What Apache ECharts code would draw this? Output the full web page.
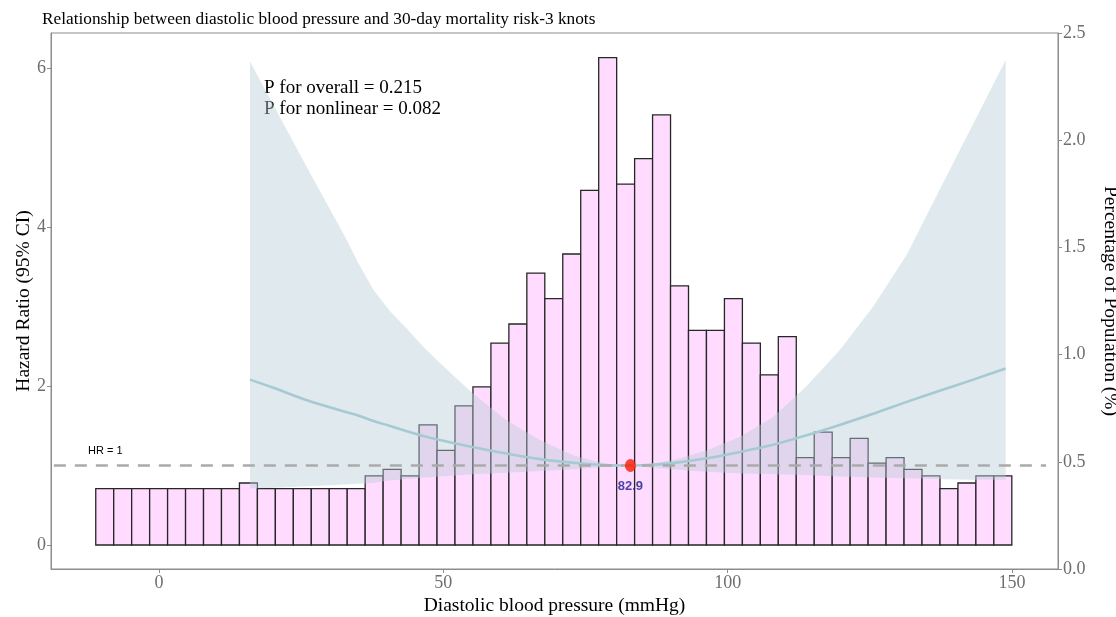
<!DOCTYPE html>
<html><head><meta charset="utf-8">
<script src="https://cdn.jsdelivr.net/npm/echarts@6/dist/echarts.min.js"></script>
<style>html,body{margin:0;padding:0;background:#fff;overflow:hidden}#c{width:1116px;height:617px}</style>
</head><body><div id="c"></div>
<script>
// Histogram bins (x in mmHg), heights read in hazard-ratio axis units
const binStart = -11.13;
const binWidth = 3.159;
const barHeights = [0.71,0.71,0.71,0.71,0.71,0.71,0.71,0.71,0.78,0.71,0.71,0.71,0.71,0.71,0.71,
  0.87,0.95,0.87,1.51,1.19,1.75,1.99,2.54,2.78,3.42,3.10,3.66,4.46,6.13,4.54,4.86,5.41,
  3.26,2.70,2.70,3.10,2.54,2.14,2.62,1.10,1.42,1.10,1.34,1.03,1.10,0.95,0.87,0.71,0.78,0.87,0.87];

// Spline fit and 95% CI
const ciX     = [16, 20, 26, 33, 35, 37.7, 40.5, 43.6, 46.5, 49.4, 55.3, 61.1, 67, 72.8, 78.7, 82.9, 87, 90.4, 96.3, 102.2, 108, 113.9, 119.7, 125.6, 131.5, 137.3, 143.2, 148.9];
const hrFit   = [2.08, 1.98, 1.82, 1.67, 1.63, 1.56, 1.50, 1.43, 1.37, 1.32, 1.23, 1.15, 1.08, 1.035, 1.005, 1.0, 1.01, 1.03, 1.09, 1.17, 1.26, 1.38, 1.51, 1.65, 1.80, 1.94, 2.08, 2.22];
const hrUpper = [6.08, 5.55, 4.75, 3.84, 3.55, 3.21, 2.95, 2.72, 2.49, 2.29, 1.90, 1.57, 1.32, 1.13, 1.02, 1.0, 1.03, 1.07, 1.19, 1.36, 1.61, 2.0, 2.45, 3.0, 3.65, 4.47, 5.30, 6.10];
const hrLower = [0.71, 0.72, 0.74, 0.76, 0.77, 0.78, 0.81, 0.83, 0.85, 0.86, 0.89, 0.91, 0.93, 0.95, 0.98, 1.0, 0.97, 0.95, 0.92, 0.90, 0.89, 0.88, 0.86, 0.85, 0.84, 0.83, 0.82, 0.82];

const refPoint = [82.9, 1];
const refLineX = [-18.5, 156];
const refHR = 1;

const xTicks = [0, 50, 100, 150];
const yTicks = [0, 2, 4, 6];

const titleText = 'Relationship between diastolic blood pressure and 30-day mortality risk-3 knots';
const pTexts = ['P for overall = 0.215', 'P for nonlinear = 0.082'];

const serif = '"Liberation Serif", "DejaVu Serif", serif';
const sans = '"Liberation Sans", Arial, sans-serif';

const barData = barHeights.map((h, i) => [binStart + i * binWidth, binStart + (i + 1) * binWidth, h]);

const chart = echarts.init(document.getElementById('c'), null, {renderer: 'canvas'});
chart.setOption({
  animation: false,
  backgroundColor: '#fff',
  title: {
    text: titleText, left: 37, top: 6,
    textStyle: {fontFamily: serif, fontSize: 17.3, fontWeight: 'normal', color: '#000'}
  },
  grid: {left: 51, right: 58, top: 33, bottom: 48, show: true, borderColor: '#8c8c8c', borderWidth: 1,
    containLabel: false, outerBoundsMode: 'none'},
  xAxis: {
    type: 'value', min: -19, max: 158.1,
    name: 'Diastolic blood pressure (mmHg)', nameLocation: 'middle', nameGap: 27, nameMoveOverlap: false,
    nameTextStyle: {fontFamily: serif, fontSize: 19.5, color: '#000'},
    axisLine: {show: true, onZero: false, lineStyle: {color: '#8c8c8c'}},
    axisTick: {show: true, length: 4, lineStyle: {color: '#8c8c8c'}, customValues: xTicks},
    axisLabel: {fontFamily: serif, fontSize: 18, color: '#6e6e6e', margin: 5, customValues: xTicks},
    splitLine: {show: false}
  },
  yAxis: [{
    type: 'value', min: -0.302, max: 6.44,
    name: 'Hazard Ratio (95% CI)', nameLocation: 'middle', nameGap: 17, nameRotate: 90, nameMoveOverlap: false,
    nameTextStyle: {fontFamily: serif, fontSize: 19.5, color: '#000'},
    axisLine: {show: true, onZero: false, lineStyle: {color: '#8c8c8c'}},
    axisTick: {show: true, length: 4, lineStyle: {color: '#8c8c8c'}, customValues: yTicks},
    axisLabel: {fontFamily: serif, fontSize: 18, color: '#6e6e6e', margin: 5, customValues: yTicks},
    splitLine: {show: false}
  }, {
    type: 'value', min: 0, max: 2.5, interval: 0.5, position: 'right',
    name: 'Percentage of Population (%)', nameLocation: 'middle', nameGap: 42, nameRotate: -90, nameMoveOverlap: false,
    nameTextStyle: {fontFamily: serif, fontSize: 19.5, color: '#000'},
    axisLine: {show: true, onZero: false, lineStyle: {color: '#8c8c8c'}},
    axisTick: {show: true, length: 4, lineStyle: {color: '#8c8c8c'}},
    axisLabel: {fontFamily: serif, fontSize: 18, color: '#6e6e6e', margin: 5, formatter: v => v.toFixed(1)},
    splitLine: {show: false}
  }],
  graphic: [
    {type: 'text', left: 264, top: 78, style: {text: pTexts.join('\n'), font: '19px ' + serif, fill: '#000', lineHeight: 21}},
    {type: 'text', left: 88, top: 445, style: {text: 'HR = 1', font: '11px ' + sans, fill: '#000'}}
  ],
  series: [
    {
      type: 'custom', name: 'hist', xAxisIndex: 0, yAxisIndex: 0,
      data: barData, encode: {x: [0, 1], y: 2},
      renderItem: (params, api) => {
        const p0 = api.coord([api.value(0), 0]);
        const p1 = api.coord([api.value(1), api.value(2)]);
        return {type: 'rect', shape: {x: p0[0], y: p1[1], width: p1[0] - p0[0], height: p0[1] - p1[1]},
          style: {fill: '#FFDCFF', stroke: '#262626', lineWidth: 1.3}};
      },
      z: 1
    },
    {
      type: 'custom', name: 'ci', xAxisIndex: 0, yAxisIndex: 0,
      data: [[ciX[0], hrLower[0]]],
      renderItem: (params, api) => {
        const pts = [];
        ciX.forEach((x, i) => pts.push(api.coord([x, hrUpper[i]])));
        for (let i = ciX.length - 1; i >= 0; i--) pts.push(api.coord([ciX[i], hrLower[i]]));
        return {type: 'polygon', shape: {points: pts}, style: {fill: 'rgba(182,204,214,0.43)'}};
      },
      z: 2
    },
    {
      type: 'line', name: 'fit', data: ciX.map((x, i) => [x, hrFit[i]]), smooth: 0.3, symbol: 'none',
      lineStyle: {color: '#a6cad3', width: 2.6}, z: 3
    },
    {
      type: 'line', name: 'ref', data: refLineX.map(x => [x, refHR]), symbol: 'none',
      lineStyle: {color: '#aaaaaa', width: 2.5, type: [12, 9]}, z: 4
    },
    {
      type: 'scatter', name: 'point', data: [refPoint], symbolSize: [11, 13],
      itemStyle: {color: '#ff1a00'},
      label: {show: true, position: 'bottom', distance: 8, formatter: () => String(refPoint[0]),
        fontFamily: sans, fontSize: 13, fontWeight: 'bold', color: '#1a1a8a'},
      z: 5
    }
  ]
});
</script></body></html>
